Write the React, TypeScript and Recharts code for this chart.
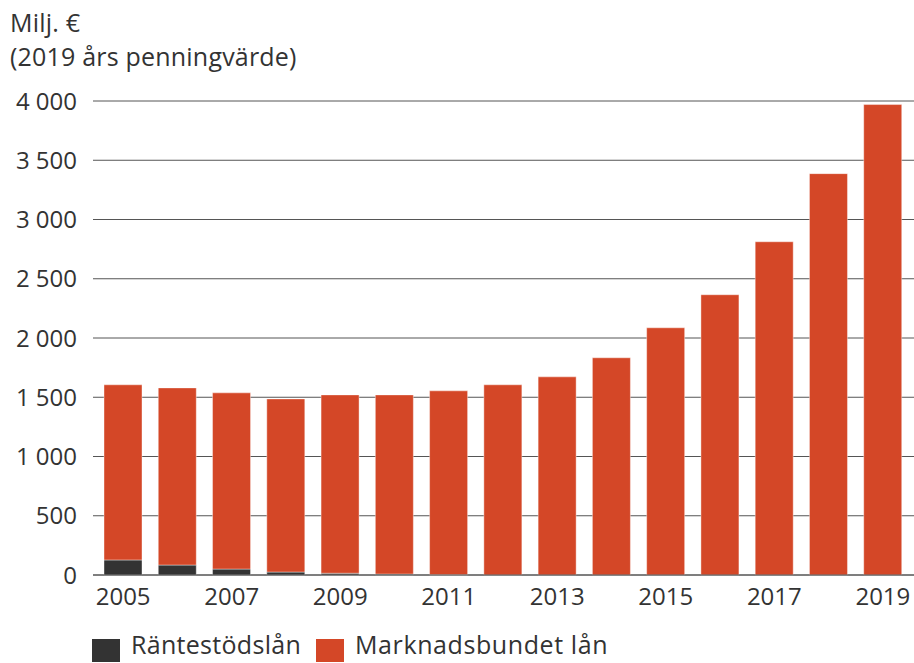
import React from "react";
import { BarChart, Bar, XAxis, YAxis, CartesianGrid } from "recharts";

const years = ["2005","2006","2007","2008","2009","2010","2011","2012","2013","2014","2015","2016","2017","2018","2019"];
const rantestod = [127, 84, 50, 25, 15, 8, 3, 0, 0, 0, 0, 0, 0, 0, 0];
const marknad = [1478, 1495, 1487, 1461, 1505, 1512, 1551, 1605, 1672, 1833, 2086, 2365, 2812, 3387, 3970];
const yTicks = [0, 500, 1000, 1500, 2000, 2500, 3000, 3500, 4000];
const seriesNames = ["Räntestödslån", "Marknadsbundet lån"];
const titleLines = ["Milj. €", "(2019 års penningvärde)"];

const data = years.map((y, i) => ({ year: y, r: rantestod[i], m: marknad[i] }));

const FONT = "'Open Sans', sans-serif";
const TXT = "#333333";
const RED = "#D44727";
const DARK = "#333333";

const fmt = (v: number) => {
  if (v >= 1000) {
    const th = Math.floor(v / 1000);
    const rest = String(v % 1000).padStart(3, "0");
    return `${th} ${rest}`;
  }
  return String(v);
};

export default function App() {
  return (
    <div style={{ position: "fixed", left: 0, top: 0, width: 914, height: 663, background: "#fff", fontFamily: FONT, color: TXT, overflow: "hidden" }}>
      <div style={{ position: "absolute", left: 10, top: 5, fontSize: 25, lineHeight: "34px", letterSpacing: 0.2 }}>
        <div>{titleLines[0]}</div>
        <div>{titleLines[1]}</div>
      </div>
      <BarChart
        width={914}
        height={663}
        data={data}
        margin={{ top: 101, right: 0, left: 0, bottom: 0 }}
        barSize={38}
      >
        <CartesianGrid vertical={false} stroke="#555" strokeWidth={1} />
        <XAxis
          dataKey="year"
          height={88}
          interval={1}
          tickLine={false}
          axisLine={{ stroke: "#555" }}
          tickSize={0}
          tickMargin={13}
          padding={{ left: 3, right: 4 }}
          tick={{ fill: TXT, fontSize: 24, fontFamily: FONT }}
        />
        <YAxis
          width={93}
          domain={[0, 4000]}
          ticks={yTicks}
          tickFormatter={fmt}
          tickLine={false}
          axisLine={false}
          tickSize={0}
          tickMargin={16}
          tick={{ fill: TXT, fontSize: 24, fontFamily: FONT }}
        />
        <Bar dataKey="r" name={seriesNames[0]} stackId="a" fill={DARK} stroke="#fff" strokeOpacity={0.4} isAnimationActive={false} />
        <Bar dataKey="m" name={seriesNames[1]} stackId="a" fill={RED} stroke="#fff" strokeOpacity={0.4} isAnimationActive={false} />
      </BarChart>
      <div style={{ position: "absolute", left: 92, top: 639, width: 28, height: 23, background: DARK }} />
      <div style={{ position: "absolute", left: 131, top: 631, fontSize: 25, lineHeight: "26px", letterSpacing: 0.3 }}>{seriesNames[0]}</div>
      <div style={{ position: "absolute", left: 316, top: 639, width: 28, height: 23, background: RED }} />
      <div style={{ position: "absolute", left: 355, top: 631, fontSize: 25, lineHeight: "26px", letterSpacing: 0.6 }}>{seriesNames[1]}</div>
    </div>
  );
}
